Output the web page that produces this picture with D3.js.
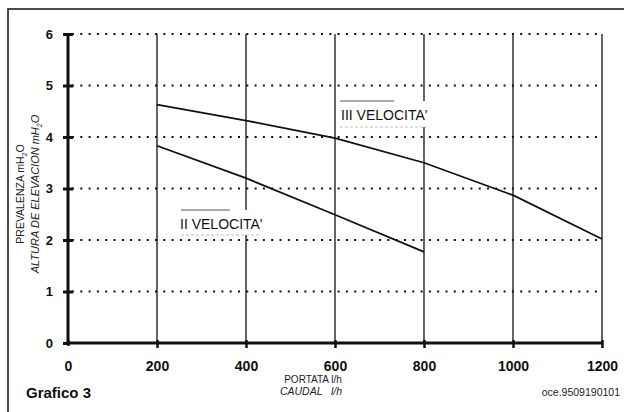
<!DOCTYPE html>
<html>
<head>
<meta charset="utf-8">
<script src="https://cdn.jsdelivr.net/npm/d3@7"></script>
<style>
  body { margin: 0; background: #fff; }
  svg { display: block; font-family: "Liberation Sans", Arial, sans-serif; }
</style>
</head>
<body>
<div id="root"></div>
<script>
var width = 624;
var height = 412;

// values
var xTicks = [0, 200, 400, 600, 800, 1000, 1200];
var yTicks = [0, 1, 2, 3, 4, 5, 6];

var flowIII = [200, 400, 600, 800, 1000, 1200];
var headIII = [4.63, 4.32, 3.98, 3.50, 2.87, 2.02];

var flowII = [200, 400, 600, 800];
var headII = [3.83, 3.20, 2.49, 1.77];

var x = d3.scaleLinear().domain([0, 1200]).range([68, 602]);
var y = d3.scaleLinear().domain([0, 6]).range([343, 34]);

var svg = d3.select('#root')
  .append('svg')
    .attr('width', width)
    .attr('height', height);

// frame (runs off the right and bottom of the picture)
svg.append('path')
  .attr('d', 'M8,420V9H630')
  .attr('fill', 'none')
  .attr('stroke', '#111')
  .attr('stroke-width', 1.5);

// dotted horizontal grid
svg.append('g')
  .selectAll('line')
  .data(yTicks.filter(function(d) { return d > 0; }))
  .enter().append('line')
    .attr('x1', x(0) + 4)
    .attr('x2', x(1200))
    .attr('y1', function(d) { return y(d); })
    .attr('y2', function(d) { return y(d); })
    .attr('stroke', '#111')
    .attr('stroke-width', 1.8)
    .attr('stroke-dasharray', '2,6.3');

// solid vertical grid
svg.append('g')
  .selectAll('line')
  .data(xTicks.filter(function(d) { return d > 0; }))
  .enter().append('line')
    .attr('x1', function(d) { return x(d); })
    .attr('x2', function(d) { return x(d); })
    .attr('y1', y(0))
    .attr('y2', y(6))
    .attr('stroke', '#111')
    .attr('stroke-width', 1.3);

// curves
var line = d3.line()
  .x(function(d) { return x(d[0]); })
  .y(function(d) { return y(d[1]); });

svg.append('path')
  .datum(d3.zip(flowIII, headIII))
  .attr('d', line)
  .attr('fill', 'none')
  .attr('stroke', '#111')
  .attr('stroke-width', 1.8);

svg.append('path')
  .datum(d3.zip(flowII, headII))
  .attr('d', line)
  .attr('fill', 'none')
  .attr('stroke', '#111')
  .attr('stroke-width', 1.8);

// curve labels on white patches
function curveLabel(txt, bx, by, bw, bh, tx, ty) {
  var g = svg.append('g');
  g.append('rect')
    .attr('x', bx).attr('y', by)
    .attr('width', bw).attr('height', bh)
    .attr('fill', '#fff');
  g.append('line')
    .attr('x1', bx + 4).attr('x2', bx + bw * 0.6)
    .attr('y1', by).attr('y2', by)
    .attr('stroke', '#444').attr('stroke-width', 0.9);
  g.append('line')
    .attr('x1', bx + 4).attr('x2', bx + bw - 6)
    .attr('y1', by + bh).attr('y2', by + bh)
    .attr('stroke', '#999').attr('stroke-width', 0.6)
    .attr('stroke-dasharray', '3,2');
  g.append('text')
    .attr('x', tx).attr('y', ty)
    .attr('font-size', 14)
    .attr('fill', '#111')
    .text(txt);
}
curveLabel("III VELOCITA'", 336, 101, 97, 26, 341, 120);
curveLabel("II VELOCITA'", 177, 210, 88, 25, 180, 228.5);

// axis lines
svg.append('line')
  .attr('x1', x(0)).attr('x2', x(0))
  .attr('y1', y(6) - 1).attr('y2', y(0) + 2)
  .attr('stroke', '#111').attr('stroke-width', 3);
svg.append('line')
  .attr('x1', x(0) - 2).attr('x2', x(1200))
  .attr('y1', y(0)).attr('y2', y(0))
  .attr('stroke', '#111').attr('stroke-width', 3);

// y axis labels and ticks
var yAxis = svg.append('g')
  .attr('transform', 'translate(' + x(0) + ',0)')
  .call(d3.axisLeft(y).tickValues(yTicks).tickFormat(d3.format('d'))
    .tickSize(0).tickPadding(15));
yAxis.select('.domain').remove();
yAxis.selectAll('text')
  .attr('font-family', '"Liberation Sans", Arial, sans-serif')
  .attr('font-size', 13)
  .attr('font-weight', 'bold')
  .attr('fill', '#111');
yAxis.selectAll('.tick').append('line')
  .attr('x1', -5).attr('x2', function(d) { return d === 0 ? 0 : 5; })
  .attr('stroke', '#111').attr('stroke-width', 3);

// x axis labels and ticks
var xAxis = svg.append('g')
  .attr('transform', 'translate(0,' + y(0) + ')')
  .call(d3.axisBottom(x).tickValues(xTicks).tickFormat(d3.format('d'))
    .tickSize(0).tickPadding(18));
xAxis.select('.domain').remove();
xAxis.selectAll('text')
  .attr('font-family', '"Liberation Sans", Arial, sans-serif')
  .attr('font-size', 14)
  .attr('font-weight', 'bold')
  .attr('fill', '#111');
xAxis.selectAll('.tick').append('line')
  .attr('y1', -3).attr('y2', function(d) { return d === 0 ? 3 : 5; })
  .attr('stroke', '#111').attr('stroke-width', 2.5);

// y axis title
var yTitle = svg.append('g')
  .attr('transform', 'translate(24,194) rotate(-90)');
var t1 = yTitle.append('text')
  .attr('text-anchor', 'middle')
  .attr('font-size', 10.5)
  .attr('fill', '#222');
t1.append('tspan').text('PREVALENZA mH');
t1.append('tspan').attr('font-size', 7).attr('dy', 3).text('2');
t1.append('tspan').attr('dy', -3).text('O');

var t2 = yTitle.append('text')
  .attr('text-anchor', 'middle')
  .attr('y', 15)
  .attr('font-size', 11)
  .attr('font-style', 'italic')
  .attr('fill', '#222');
t2.append('tspan').text('ALTURA DE ELEVACION mH');
t2.append('tspan').attr('font-size', 7).attr('dy', 3).text('2');
t2.append('tspan').attr('dy', -3).text('O');

// x axis title
svg.append('text')
  .attr('x', 313).attr('y', 382.5)
  .attr('text-anchor', 'middle')
  .attr('font-size', 10)
  .attr('fill', '#222')
  .text('PORTATA l/h');
svg.append('text')
  .attr('x', 311).attr('y', 395)
  .attr('text-anchor', 'middle')
  .attr('font-size', 10.5)
  .attr('font-style', 'italic')
  .attr('fill', '#222')
  .attr('xml:space', 'preserve')
  .text('CAUDAL   l/h');

// footer
svg.append('text')
  .attr('x', 26).attr('y', 398)
  .attr('font-size', 15)
  .attr('font-weight', 'bold')
  .attr('fill', '#111')
  .text('Grafico 3');
svg.append('text')
  .attr('x', 620).attr('y', 396)
  .attr('text-anchor', 'end')
  .attr('font-size', 10.5)
  .attr('fill', '#222')
  .text('oce.9509190101');
</script>
</body>
</html>
